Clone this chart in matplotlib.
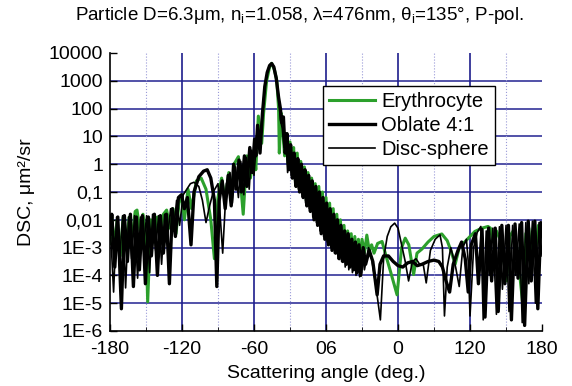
import numpy as np
import matplotlib
matplotlib.use("Agg")
import matplotlib.pyplot as plt

# (angle in deg, log10 DSC): peaks and troughs of each curve
pts_ery = [(-180, -2.85), (-178.5, -1.9), (-176.5, -3.0), (-174, -2.0), (-171.5, -3.3), (-169, -1.9), (-166.5, -3.0),
           (-164, -1.9), (-161.5, -2.6), (-159, -1.7), (-157.5, -1.65), (-155, -2.4), (-152.5, -1.8), (-150, -2.6),
           (-148.6, -4.95), (-146, -2.0), (-143, -2.8), (-140.5, -1.9), (-138, -2.6), (-135.5, -1.8), (-132.8, -1.65),
           (-130, -2.3), (-127.5, -1.6), (-125, -2.5), (-122.5, -1.4), (-120, -1.1), (-118, -2.0), (-115, -0.9),
           (-112, -1.6), (-108, -0.6), (-104, -0.5), (-100, -0.9), (-96, -2.0), (-93, -3.4), (-90, -1.2), (-87, -0.5),
           (-84, -1.3), (-81, -0.3), (-78.5, -1.0), (-76, 0.05), (-73, 0.27), (-69, -1.8), (-66, 0.3), (-63, -0.5),
           (-60, 0.5), (-58.5, -0.2), (-56.4, 1.73), (-53.6, 0.75), (-52, 1.84), (-49.5, 3.0), (-47, 3.5), (-45.3, 3.63),
           (-43, 3.4), (-41, 3.0), (-39.5, 2.0), (-38.9, 0.4), (-37.5, 1.85), (-36, 1.2), (-34.5, 0.3), (-33, 1.1),
           (-31.5, 0.0), (-30, 0.8), (-28.5, -0.2), (-27, 0.6), (-25.5, -0.6), (-24, 0.4), (-22.5, -0.8), (-21, 0.1),
           (-19.5, -1.0), (-18, -0.1), (-16.5, -1.3), (-15, -0.3), (-13.5, -1.5), (-12, -0.5), (-10.5, -1.7), (-9, -0.7),
           (-7.5, -2.0), (-6, -0.8), (-4.5, -2.2), (-3, -1.0), (-1.5, -2.4), (0, -1.2), (1.5, -2.6), (3, -1.4), (4.5, -2.8),
           (6, -1.6), (7.5, -3.0), (9, -1.8), (10.5, -3.1), (12, -2.0), (13.5, -3.2), (15, -2.2), (16.5, -3.3), (18, -2.4),
           (19.5, -3.4), (21, -2.5), (22.5, -3.5), (24, -2.6), (25.5, -3.6), (27, -2.7), (28.5, -3.6), (30, -2.7),
           (32, -3.2), (34, -2.55), (36, -3.1), (38, -2.9), (40, -3.2), (43, -2.85), (46.7, -2.78), (50, -3.3),
           (54, -3.9), (59.2, -4.7), (63, -3.0), (66, -2.66), (69, -2.9), (73, -3.97), (75.8, -3.2), (80, -3.05),
           (85, -2.8), (90, -2.6), (96.5, -2.51), (101, -2.75), (104, -3.1), (107.6, -3.6), (111, -3.0), (116, -2.78),
           (120, -2.6), (124, -2.42), (130, -2.3), (135, -2.24), (137, -2.3), (139, -2.78), (142, -2.4), (145, -2.7),
           (148, -3.4), (150.4, -4.2), (153, -2.6), (156, -2.4), (159, -3.0), (161, -3.8), (164, -5.05), (166.5, -2.5),
           (169, -2.3), (171, -3.5), (173, -2.2), (175, -3.0), (177, -2.2), (179, -2.6), (180, -2.4)]

pts_obl = [(-180, -2.5), (-178.5, -1.8), (-176, -3.7), (-173.5, -1.9), (-170.5, -5.2), (-168, -1.85), (-165.5, -3.5),
           (-163, -1.8), (-160.5, -4.4), (-158, -1.9), (-155.5, -3.8), (-153, -1.85), (-150.5, -4.3), (-148, -1.9),
           (-145.5, -3.3), (-143, -1.8), (-140.5, -4.0), (-138, -1.85), (-135.5, -3.2), (-133, -1.8), (-130.5, -4.3),
           (-128, -1.6), (-125.5, -2.6), (-123, -1.2), (-120.5, -1.1), (-118, -1.6), (-115.5, -1.2), (-112.5, -2.9),
           (-110, -1.0), (-106, -0.45), (-102, -0.25), (-99, -0.2), (-96, -0.5), (-93, -1.3), (-91, -4.4), (-89, -1.3),
           (-86.5, -0.6), (-84, -1.6), (-81.5, -0.4), (-79, -1.5), (-77, 0.0), (-75, -0.9), (-72.5, 0.15), (-70.5, -1.0),
           (-68, 0.3), (-66, -0.8), (-63.5, 0.6), (-61.5, -0.3), (-59.5, 0.9), (-58.5, 0.3), (-57, 1.4), (-55, 0.4),
           (-53, 1.8), (-51, 2.8), (-49, 3.3), (-47, 3.55), (-45.3, 3.62), (-43.5, 3.5), (-41.5, 3.1), (-39.5, 2.4),
           (-38, 2.0), (-37, 1.5), (-35.5, 1.7), (-34, 0.4), (-32.5, 1.1), (-31, -0.2), (-29.5, 0.7), (-28, -0.5),
           (-26.5, 0.4), (-25, -0.8), (-23.5, 0.2), (-22, -1.0), (-20.5, 0.0), (-19, -1.2), (-17.5, -0.2), (-16, -1.5),
           (-14.5, -0.4), (-13, -1.7), (-11.5, -0.6), (-10, -2.0), (-8.5, -0.8), (-7, -2.2), (-5.5, -1.0), (-4, -2.5),
           (-2.5, -1.2), (-1, -2.7), (0.5, -1.4), (2, -2.9), (3.5, -1.6), (5, -3.1), (6.5, -1.8), (8, -3.2), (9.5, -2.0),
           (11, -3.4), (12.5, -2.2), (14, -3.5), (15.5, -2.4), (17, -3.6), (18.5, -2.5), (20, -3.7), (21.5, -2.7),
           (23, -3.8), (24.5, -2.8), (26, -3.9), (27.5, -2.9), (29, -4.0), (31, -3.0), (33, -3.6), (36, -3.1),
           (39, -3.5), (42.6, -4.7), (45, -3.6), (48, -3.3), (52, -3.3), (56, -3.5), (60, -3.65), (64, -3.7),
           (68, -3.55), (72, -3.5), (76, -3.65), (80, -3.6), (85, -3.5), (90, -3.45), (94, -3.5), (97, -3.7),
           (100, -4.2), (103, -4.6), (106, -3.6), (110, -3.1), (113, -2.8), (116, -3.4), (118.5, -4.6), (121, -2.9),
           (124.5, -2.5), (127, -4.3), (130, -2.35), (132.5, -5.5), (135.5, -2.3), (138, -4.2), (141, -2.3),
           (143.5, -5.3), (146.5, -2.2), (149, -4.3), (152, -2.2), (154.5, -5.6), (157.5, -2.15), (160, -4.1),
           (163, -2.1), (165.5, -5.8), (168.5, -2.05), (171, -4.2), (174, -2.05), (176.5, -5.2), (179, -2.1), (180, -2.5)]

pts_dsc = [(-180, -2.0), (-177, -4.6), (-174.5, -1.9), (-172, -3.5), (-169.5, -1.85), (-167, -4.45), (-164.5, -1.9),
           (-162, -3.4), (-159.5, -1.85), (-157, -4.1), (-154.5, -1.9), (-152, -3.0), (-149.5, -1.85), (-147, -3.9),
           (-144.5, -1.8), (-142, -3.1), (-139.5, -1.85), (-137, -3.6), (-134.5, -1.8), (-132, -2.6), (-129.5, -1.6),
           (-127, -2.4), (-124.5, -1.3), (-122, -2.2), (-119, -1.1), (-116, -0.9), (-113, -0.7), (-110, -0.65),
           (-106, -0.8), (-103, -1.3), (-100, -2.1), (-97, -1.5), (-94, -1.0), (-90, -0.7), (-86.1, -3.2), (-83, -0.7),
           (-80, -0.3), (-78, -1.4), (-75.5, -0.1), (-73, -1.2), (-71, 0.1), (-68.5, -1.1), (-66.5, 0.25), (-64, -0.9),
           (-62, 0.5), (-60, -0.4), (-58, 0.8), (-57.5, 1.0), (-55, 0.5), (-53, 1.9), (-51, 2.8), (-49, 3.3), (-47, 3.55),
           (-45.3, 3.6), (-43.5, 3.5), (-41.5, 3.1), (-39.5, 2.4), (-38, 1.6), (-36.5, 1.3), (-35, 0.6), (-33.5, 1.0),
           (-32, -0.3), (-30.5, 0.6), (-29, -0.4), (-27.5, 0.3), (-26, -0.7), (-24.5, 0.1), (-23, -0.9), (-21.5, -0.1),
           (-20, -1.1), (-18.5, -0.3), (-17, -1.4), (-15.5, -0.5), (-14, -1.6), (-12.5, -0.7), (-11, -1.9), (-9.5, -0.9),
           (-8, -2.1), (-6.5, -1.1), (-5, -2.4), (-3.5, -1.3), (-2, -2.6), (-0.5, -1.5), (1, -2.8), (2.5, -1.7), (4, -3.0),
           (5.5, -1.9), (7, -3.2), (8.5, -2.1), (10, -3.4), (11.5, -2.3), (13, -3.5), (14.5, -2.5), (16, -3.7),
           (17.5, -2.6), (19, -3.8), (20.5, -2.8), (22, -3.9), (23.5, -2.9), (25, -4.0), (26.5, -3.0), (28, -4.05),
           (30, -3.1), (32, -3.8), (35.5, -3.0), (38, -3.4), (41, -4.2), (45.3, -5.6), (48, -3.4), (51, -2.6),
           (54, -2.25), (57.2, -2.12), (60, -2.3), (63, -2.9), (66, -3.5), (68.8, -4.2), (72, -3.5), (75, -3.4),
           (78, -3.6), (81, -3.6), (83.5, -4.27), (87, -3.1), (91, -2.7), (95, -2.54), (97, -3.0), (98.7, -5.46),
           (101, -3.7), (104, -3.0), (108, -3.7), (111, -4.4), (114, -3.0), (117, -2.7), (118.5, -3.5), (120, -5.46),
           (123, -3.0), (126, -2.45), (129, -2.24), (131, -5.6), (133.5, -2.4), (136, -4.0), (139, -2.3), (142, -5.4),
           (144.5, -2.25), (147, -4.5), (150, -2.2), (152.5, -5.3), (155.5, -2.2), (158, -4.0), (161, -2.15),
           (163.5, -5.7), (166.5, -2.1), (169, -4.3), (172, -2.05), (174.5, -5.0), (177.5, -2.1), (180, -3.3)]

x_ticks = [-180, -120, -60, 0, 60, 120, 180]
x_labels = ['-180', '-120', '-60', '06', '0', '120', '180']
y_ticks = [1e4, 1e3, 1e2, 1e1, 1, 0.1, 0.01, 1e-3, 1e-4, 1e-5, 1e-6]
y_labels = ['10000', '1000', '100', '10', '1', '0,1', '0,01', '1E-3', '1E-4', '1E-5', '1E-6']

plt.rcParams['font.family'] = ['Liberation Sans', 'DejaVu Sans']
plt.rcParams['mathtext.fontset'] = 'custom'
plt.rcParams['mathtext.rm'] = 'Liberation Sans'
plt.rcParams['mathtext.it'] = 'Liberation Sans'

fig = plt.figure(figsize=(5.72, 3.86), dpi=100)
ax = fig.add_axes([0.1923, 0.1425, 0.7553, 0.7202])

# grid by hand, so there is no line on the frame edges
for v in [1e3, 1e2, 1e1, 1, 0.1, 0.01, 1e-3, 1e-4, 1e-5]:
    ax.axhline(v, color='#34349a', lw=1.2, zorder=0)
for a in [-120, -60, 0, 60, 120]:
    ax.axvline(a, color='#1e1e8c', lw=1.2, zorder=0)
for a in [-150, -90, -30, 30, 90, 150]:
    ax.axvline(a, color='#9a9ad8', lw=0.8, ls=':', zorder=0)


def curve(pts):
    a, lg = zip(*pts)
    return np.array(a), 10 ** np.array(lg)


ax.plot(*curve(pts_ery), color='#2ca02c', lw=2.2, label='Erythrocyte')
ax.plot(*curve(pts_obl), color='black', lw=2.4, label='Oblate 4:1')
ax.plot(*curve(pts_dsc), color='black', lw=1.2, label='Disc-sphere')

ax.set_yscale('log')
ax.set_xlim(-180, 180)
ax.set_ylim(1e-6, 1e4)
ax.set_xticks(x_ticks)
ax.set_xticklabels(x_labels, fontsize=14)
ax.set_xticks([-150, -90, -30, 30, 90, 150], minor=True)
ax.set_yticks(y_ticks)
ax.set_yticklabels(y_labels, fontsize=14)
ax.tick_params(direction='in', length=5, width=1)
ax.tick_params(which='minor', direction='in', length=3)
ax.tick_params(axis='x', pad=7)
ax.tick_params(axis='y', pad=5)
for s in ['top', 'right']:
    ax.spines[s].set_visible(False)
for s in ['left', 'bottom']:
    ax.spines[s].set_linewidth(1.2)

ax.set_xlabel('Scattering angle (deg.)', fontsize=14, labelpad=5)
ax.set_ylabel('DSC, μm²/sr', fontsize=14, labelpad=10)
fig.text(0.524, 0.961, r'Particle D=6.3μm, n$_{\rm i}$=1.058, λ=476nm, θ$_{\rm i}$=135°, P-pol.',
         ha='center', va='center', fontsize=13.5)

leg = ax.legend(loc='upper left', bbox_to_anchor=(0.493, 0.881), fontsize=14.5, frameon=True, fancybox=False,
                handlelength=2.3, borderpad=0.3, labelspacing=0.25, handletextpad=0.3, borderaxespad=0)
leg.get_frame().set_edgecolor('black')
leg.get_frame().set_linewidth(1.0)
leg.get_frame().set_alpha(1)

fig.savefig('out.png', dpi=100)
